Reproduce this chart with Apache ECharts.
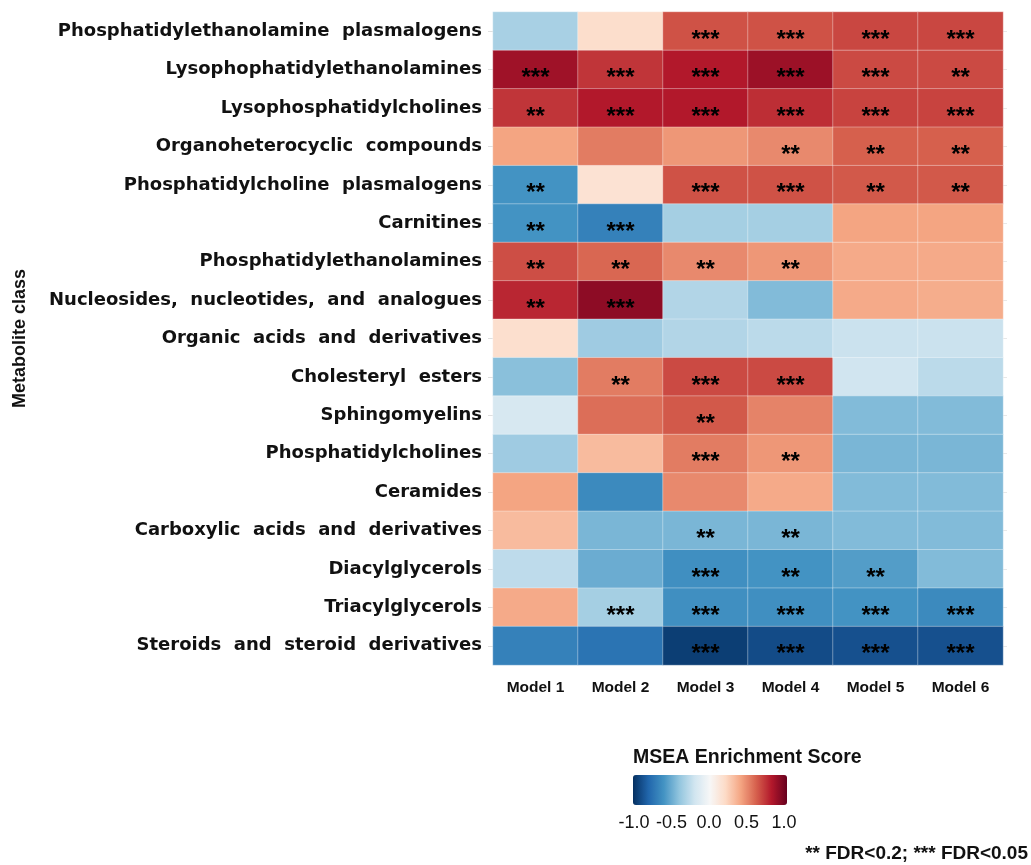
<!DOCTYPE html>
<html>
<head>
<meta charset="utf-8">
<script src="https://cdn.jsdelivr.net/npm/echarts@6/dist/echarts.min.js"></script>
<style>html,body{margin:0;padding:0;background:#fff;}#c{width:1031px;height:865px;}</style>
</head>
<body>
<div id="c"></div>
<script>
const models = ['Model 1', 'Model 2', 'Model 3', 'Model 4', 'Model 5', 'Model 6'];
const classes = [
  'Phosphatidylethanolamine  plasmalogens',
  'Lysophophatidylethanolamines',
  'Lysophosphatidylcholines',
  'Organoheterocyclic  compounds',
  'Phosphatidylcholine  plasmalogens',
  'Carnitines',
  'Phosphatidylethanolamines',
  'Nucleosides,  nucleotides,  and  analogues',
  'Organic  acids  and  derivatives',
  'Cholesteryl  esters',
  'Sphingomyelins',
  'Phosphatidylcholines',
  'Ceramides',
  'Carboxylic  acids  and  derivatives',
  'Diacylglycerols',
  'Triacylglycerols',
  'Steroids  and  steroid  derivatives'
];
// MSEA enrichment score per model (rows in the order of `classes`)
const model1Scores = [-0.33, 0.85, 0.72, 0.40, -0.60, -0.60, 0.65, 0.76, 0.17, -0.42, -0.17, -0.36, 0.40, 0.32, -0.26, 0.38, -0.68];
const model2Scores = [0.18, 0.72, 0.80, 0.52, 0.15, -0.68, 0.58, 0.90, -0.36, 0.52, 0.56, 0.32, -0.64, -0.46, -0.50, -0.34, -0.74];
const model3Scores = [0.64, 0.80, 0.80, 0.44, 0.64, -0.34, 0.48, -0.30, -0.30, 0.66, 0.62, 0.52, 0.48, -0.46, -0.62, -0.62, -0.95];
const model4Scores = [0.64, 0.86, 0.74, 0.48, 0.64, -0.34, 0.44, -0.44, -0.27, 0.66, 0.50, 0.44, 0.38, -0.46, -0.60, -0.62, -0.90];
const model5Scores = [0.67, 0.66, 0.68, 0.60, 0.62, 0.40, 0.38, 0.38, -0.22, -0.20, -0.44, -0.46, -0.44, -0.44, -0.56, -0.60, -0.88];
const model6Scores = [0.67, 0.66, 0.68, 0.60, 0.62, 0.40, 0.38, 0.37, -0.22, -0.27, -0.44, -0.46, -0.44, -0.44, -0.44, -0.64, -0.88];
// significance marks per model
const model1Stars = ['', '***', '**', '', '**', '**', '**', '**', '', '', '', '', '', '', '', '', ''];
const model2Stars = ['', '***', '***', '', '', '***', '**', '***', '', '**', '', '', '', '', '', '***', ''];
const model3Stars = ['***', '***', '***', '', '***', '', '**', '', '', '***', '**', '***', '', '**', '***', '***', '***'];
const model4Stars = ['***', '***', '***', '**', '***', '', '**', '', '', '***', '', '**', '', '**', '**', '***', '***'];
const model5Stars = ['***', '***', '***', '**', '**', '', '', '', '', '', '', '', '', '', '**', '***', '***'];
const model6Stars = ['***', '**', '***', '**', '**', '', '', '', '', '', '', '', '', '', '', '***', '***'];
const legendTicks = [-1.0, -0.5, 0.0, 0.5, 1.0];
const legendTitle = 'MSEA Enrichment Score';
const footnote = '** FDR<0.2; *** FDR<0.05';
const yName = 'Metabolite class';

const allScores = [model1Scores, model2Scores, model3Scores, model4Scores, model5Scores, model6Scores];
const allStars = [model1Stars, model2Stars, model3Stars, model4Stars, model5Stars, model6Stars];
const data = [];
allScores.forEach((col, i) => col.forEach((v, j) => data.push({ value: [i, j, v], star: allStars[i][j] })));

const RdBu = ['#053061', '#2166ac', '#4393c3', '#92c5de', '#d1e5f0', '#f7f7f7', '#fddbc7', '#f4a582', '#d6604d', '#b2182b', '#67001f'];

const chart = echarts.init(document.getElementById('c'), null, { renderer: 'canvas' });
chart.setOption({
  animation: false,
  backgroundColor: '#fff',
  title: [
    { text: legendTitle, left: 633, top: 748, padding: 0,
      textStyle: { fontFamily: 'Liberation Sans', fontWeight: 'bold', fontSize: 19.5, color: '#111' } },
    { text: footnote, right: 3, top: 844, padding: 0,
      textStyle: { fontFamily: 'Liberation Sans', fontWeight: 'bold', fontSize: 19, color: '#111' } }
  ],
  grid: [
    { left: 493, right: 28, top: 12, bottom: 200 },
    { left: 634, width: 150, top: 775, height: 30 }
  ],
  xAxis: [
    { type: 'category', data: models, gridIndex: 0, position: 'bottom',
      axisLine: { show: false }, axisTick: { show: false }, splitLine: { show: false },
      axisLabel: { margin: 15, fontFamily: 'Liberation Sans', fontWeight: 'bold', fontSize: 15.5, color: '#111' } },
    { type: 'value', gridIndex: 1, min: -1, max: 1, interval: 0.5,
      axisLine: { show: false }, splitLine: { show: false },
      axisTick: { show: true, inside: true, length: 4, lineStyle: { color: 'rgba(255,255,255,0.8)', width: 1 } },
      axisLabel: { margin: 9, fontFamily: 'Liberation Sans', fontSize: 18, color: '#111',
        formatter: v => legendTicks.includes(v) ? v.toFixed(1) : '' } }
  ],
  yAxis: [
    { type: 'category', data: classes, gridIndex: 0, inverse: true,
      name: yName, nameLocation: 'middle', nameRotate: 90, nameGap: 464,
      nameTextStyle: { fontFamily: 'Liberation Sans', fontWeight: 'bold', fontSize: 18, color: '#111' },
      axisLine: { show: false }, splitLine: { show: false },
      axisTick: { show: true, length: 5, alignWithLabel: true, lineStyle: { color: '#e0e0e0' } },
      axisLabel: { margin: 11, fontFamily: 'DejaVu Sans', fontWeight: 'bold', fontSize: 18, color: '#111' } },
    { type: 'value', gridIndex: 1, min: 0, max: 1, show: false },
    { type: 'category', data: classes, gridIndex: 0, inverse: true, position: 'right',
      axisLine: { show: false }, splitLine: { show: false }, axisLabel: { show: false },
      axisTick: { show: true, length: 4, alignWithLabel: true, lineStyle: { color: '#e8e8e8' } } }
  ],
  visualMap: {
    type: 'continuous', seriesIndex: 0, min: -1, max: 1, orient: 'horizontal',
    left: 633, top: 775, itemWidth: 30, itemHeight: 154, calculable: false,
    showLabel: false, text: null, padding: 0, hoverLink: false,
    inRange: { color: RdBu }
  },
  series: [{
    type: 'heatmap', xAxisIndex: 0, yAxisIndex: 0, data: data,
    itemStyle: { borderColor: 'rgba(255,255,255,0.35)', borderWidth: 1 },
    label: { show: true, formatter: p => p.data.star, offset: [0, 9],
      fontFamily: 'Liberation Sans', fontWeight: 'bold', fontSize: 24, color: '#000' },
    emphasis: { disabled: true }
  }]
});
</script>
</body>
</html>
